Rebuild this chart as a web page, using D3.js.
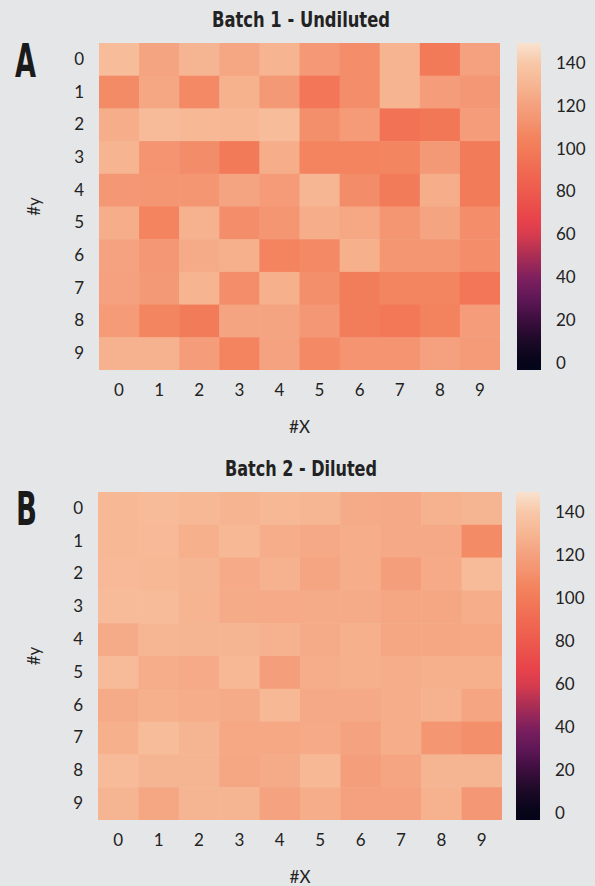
<!DOCTYPE html>
<html>
<head>
<meta charset="utf-8">
<script src="https://cdn.jsdelivr.net/npm/d3@7"></script>
<style>
html,body{margin:0;padding:0;background:#e5e6e8;}
svg{display:block;}
</style>
</head>
<body>
<svg id="chart" width="595" height="886"></svg>
<script>
// ---------- DATA ----------
const xLabels = ["0","1","2","3","4","5","6","7","8","9"];
const yLabels = ["0","1","2","3","4","5","6","7","8","9"];
const colorbarTicks = [0,20,40,60,80,100,120,140];
const titleA = "Batch 1 - Undiluted";
const titleB = "Batch 2 - Diluted";

const batch1 = [
  [133.5,121.7,129.7,122.6,129.2,115.3,110.3,129.0, 99.0,120.0],
  [108.6,123.0,108.0,127.5,115.8, 96.8,110.3,129.0,118.3,114.8],
  [126.0,133.0,131.5,131.0,133.5,110.8,117.0, 94.4, 97.2,118.3],
  [129.0,113.0,109.4, 99.0,126.0,105.4,105.4,106.0,115.8, 99.6],
  [114.8,114.0,114.0,121.7,117.0,130.3,109.4,100.3,126.0, 99.6],
  [126.0,105.4,128.0,110.3,114.0,125.6,123.5,114.0,121.7,110.3],
  [121.0,114.8,124.8,127.0,105.4,108.0,127.0,114.0,114.0,110.3],
  [120.0,115.8,129.0,110.3,127.0,110.8,100.9,106.0,106.0, 96.8],
  [117.0,106.5,100.3,121.7,121.7,114.8,100.9, 97.9,104.9,118.3],
  [128.0,128.0,118.3,105.4,121.0,108.0,113.0,113.0,120.0,117.0]
];
const batch2 = [
  [131.5,133.0,131.5,129.0,131.5,130.3,124.8,124.0,128.0,129.7],
  [131.5,132.0,127.0,131.5,126.0,124.0,126.0,124.0,124.0,108.9],
  [132.0,131.5,129.7,124.4,128.0,122.2,126.0,118.7,124.4,133.0],
  [133.0,133.0,129.0,124.8,124.4,124.8,124.8,123.0,123.0,125.6],
  [124.8,130.3,129.7,129.7,128.0,124.8,127.0,123.0,123.0,123.5],
  [133.0,125.6,124.4,131.5,118.7,125.6,127.0,125.6,127.0,127.0],
  [124.8,127.0,125.6,124.8,131.5,124.0,124.0,126.0,128.0,122.2],
  [127.0,134.0,129.7,123.5,123.5,124.4,121.0,126.0,114.0,110.8],
  [133.0,129.7,129.7,123.0,124.8,131.5,118.7,122.2,129.7,129.7],
  [129.7,123.0,129.7,129.7,121.0,126.0,120.0,120.0,128.0,114.8]
];
const vmin = -3.3, vmax = 149.3;

// ---------- COLORMAP (rocket-like, as drawn in the reference colour bar) ----------
const cmapValues = [-3.3, 1, 11, 20, 29, 39, 46, 53, 60, 67, 71, 81, 90, 99, 106, 113, 120, 127, 140, 149.3];
const cmapColors = ["#03051a","#07051a","#1e0a28","#3c0e3e","#5c1655","#7c1f5e","#9a2858","#b83252",
  "#d83c4e","#e8434b","#e94a4a","#ee5c4e","#f06a52","#f27a58","#f38560","#f49470","#f5a07e","#f6b08c",
  "#f8c8a8","#f9e2cf"];
const color = d3.scaleLinear()
  .domain(cmapValues)
  .range(cmapColors)
  .interpolate(d3.interpolateRgb)
  .clamp(true);

const svg = d3.select("#chart");
const textColor = "#222";
const tickFont = "Lato, 'Noto Sans', sans-serif";
const titleFont = "'Liberation Sans Narrow','DejaVu Sans Condensed','Liberation Sans',sans-serif";

// gradient for colorbar
const defs = svg.append("defs");
const grad = defs.append("linearGradient").attr("id","cmap")
  .attr("x1","0").attr("y1","1").attr("x2","0").attr("y2","0");
cmapValues.forEach((v,i) => grad.append("stop")
  .attr("offset", (v - vmin) / (vmax - vmin)).attr("stop-color", cmapColors[i]));

function panel(cfg) {
  const {data, title, letter, left, right, top, bottom, titleY, titleW, letterX, letterBase, cbLeft, cbRight} = cfg;
  const g = svg.append("g");
  const x = d3.scaleBand().domain(xLabels).range([left, right]).padding(0);
  const y = d3.scaleBand().domain(yLabels).range([top, bottom]).padding(0);

  const cells = [];
  data.forEach((row, r) => row.forEach((v, c) => cells.push({r, c, v})));
  g.selectAll("rect.cell").data(cells).join("rect")
    .attr("class","cell")
    .attr("x", d => x(xLabels[d.c]))
    .attr("y", d => y(yLabels[d.r]))
    .attr("width", d => x.bandwidth() + (d.c < 9 ? 0.5 : 0))
    .attr("height", d => y.bandwidth() + (d.r < 9 ? 0.5 : 0))
    .attr("fill", d => color(d.v));

  const xa = g.append("g").attr("transform", `translate(0,${bottom})`)
    .call(d3.axisBottom(x).tickSize(0).tickPadding(14));
  xa.select(".domain").remove();
  xa.selectAll("text").attr("font-family", tickFont).attr("font-size", 17).attr("fill", textColor);

  const ya = g.append("g").attr("transform", `translate(${left},0)`)
    .call(d3.axisLeft(y).tickSize(0).tickPadding(15));
  ya.select(".domain").remove();
  ya.selectAll("text").attr("font-family", tickFont).attr("font-size", 17).attr("fill", textColor);

  g.append("text").attr("x", (left+right)/2).attr("y", bottom + 63)
    .attr("text-anchor","middle").attr("font-family", tickFont).attr("font-size", 17)
    .attr("fill", textColor).text("#X");
  g.append("text").attr("transform", `translate(40,${(top+bottom)/2}) rotate(-90)`)
    .attr("text-anchor","middle").attr("font-family", tickFont).attr("font-size", 17)
    .attr("fill", textColor).text("#y");

  g.append("text").attr("x", 301).attr("y", titleY)
    .attr("text-anchor","middle").attr("font-family", titleFont).attr("font-weight","bold")
    .attr("font-size", 21).attr("fill", textColor)
    .attr("textLength", titleW).attr("lengthAdjust","spacingAndGlyphs")
    .text(title);

  g.append("text").attr("x", letterX).attr("y", letterBase)
    .attr("font-family", titleFont).attr("font-weight","bold")
    .attr("font-size", 47).attr("fill", "#1a1a1a")
    .attr("textLength", 21).attr("lengthAdjust","spacingAndGlyphs")
    .text(letter);

  g.append("rect").attr("x", cbLeft).attr("y", top)
    .attr("width", cbRight - cbLeft).attr("height", bottom - top)
    .attr("fill", "url(#cmap)");
  const cs = d3.scaleLinear().domain([vmin, vmax]).range([bottom, top]);
  const ca = g.append("g").attr("transform", `translate(${cbRight},0)`)
    .call(d3.axisRight(cs).tickValues(colorbarTicks).tickSize(0).tickPadding(15));
  ca.select(".domain").remove();
  ca.selectAll("text").attr("font-family", tickFont).attr("font-size", 17).attr("fill", textColor);
}

panel({data: batch1, title: titleA, letter: "A", left: 99, right: 500, top: 43, bottom: 370,
  titleY: 27, titleW: 178, letterX: 15, letterBase: 77, cbLeft: 517, cbRight: 541});
panel({data: batch2, title: titleB, letter: "B", left: 98, right: 502, top: 492, bottom: 820,
  titleY: 476, titleW: 152, letterX: 16, letterBase: 525, cbLeft: 516, cbRight: 540});
</script>
</body>
</html>
